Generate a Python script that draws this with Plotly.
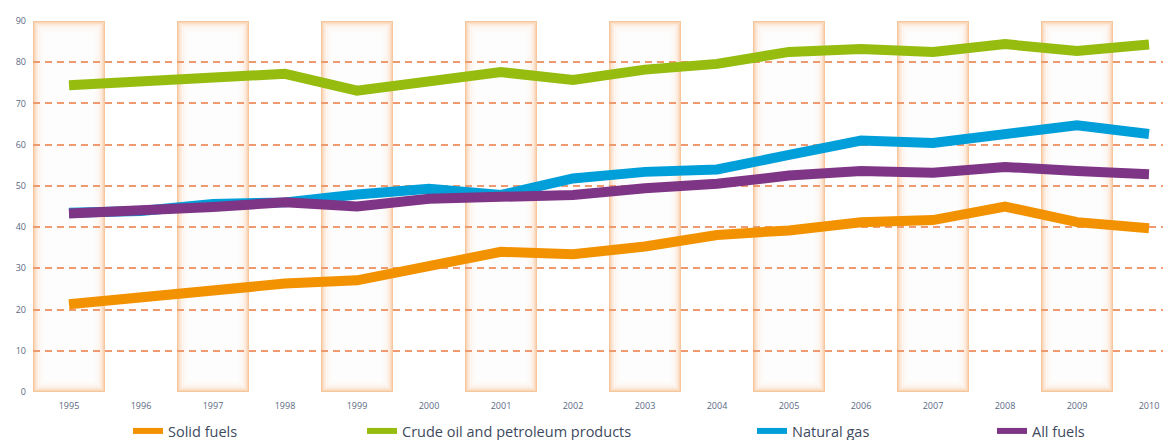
import plotly.graph_objects as go

# Years on the x axis
years = list(range(1995, 2011))

# Series values (index values per fuel type)
solid_fuels = [21.3, 22.9, 24.9, 26.3, 27.1, 30.7, 34.0, 33.4, 35.3, 38.1, 39.2, 41.2, 41.7, 45.0, 41.2, 39.7]
crude_oil = [74.4, 75.3, 75.7, 77.2, 73.1, 75.5, 77.6, 75.7, 78.2, 79.6, 82.5, 83.2, 82.5, 84.4, 82.7, 84.3]
natural_gas = [43.5, 43.9, 45.6, 46.0, 47.9, 49.3, 47.8, 51.8, 53.4, 54.0, 57.5, 61.0, 60.4, 62.4, 64.7, 62.6]
all_fuels = [43.3, 43.8, 44.9, 46.0, 45.0, 46.9, 47.4, 47.8, 49.4, 50.5, 52.5, 53.6, 53.2, 54.6, 53.6, 52.8]

series_names = ["Solid fuels", "Crude oil and petroleum products", "Natural gas", "All fuels"]
series_values = [solid_fuels, crude_oil, natural_gas, all_fuels]
series_colors = ["#F39200", "#95BC0E", "#009FDA", "#7E3586"]

# Alternate years that get a shaded column
band_years = [y for y in years if (y - years[0]) % 2 == 0 and y < years[-1]]

Y_MAX = 90
W, H = 1171, 440
plot_left, plot_right, plot_top, plot_bottom = 33, 1163, 21, 392
PX_X = 72.0                                   # pixels per year
PX_Y = (plot_bottom - plot_top) / Y_MAX       # pixels per unit
x_hi = 1994.5 + (plot_right - plot_left) / PX_X

fig = go.Figure()

legend_ids = ["legend", "legend2", "legend3", "legend4"]
for name, vals, col, lid in zip(series_names, series_values, series_colors, legend_ids):
    # data line
    fig.add_trace(go.Scatter(
        x=years, y=vals, name=name, mode="lines",
        line=dict(color=col, width=10),
        showlegend=False, hoverinfo="x+y+name",
    ))
    # slimmer legend swatch
    fig.add_trace(go.Scatter(
        x=[None], y=[None], name=name, mode="lines",
        line=dict(color=col, width=6), legend=lid, showlegend=True,
    ))

# Shaded columns with a soft inner glow: orange base, whitened toward the center
shapes = []
layers = 16
step = 1.1
for yr in band_years:
    x0, x1 = yr - 0.5, yr + 0.5
    shapes.append(dict(type="rect", xref="x", yref="y", x0=x0, x1=x1, y0=0, y1=Y_MAX,
                       fillcolor="#F6C69C", line=dict(width=0), layer="below"))
    for i in range(1, layers + 1):
        dx = i * step / PX_X
        dy = i * step / PX_Y
        shapes.append(dict(type="rect", xref="x", yref="y",
                           x0=x0 + dx, x1=x1 - dx, y0=dy, y1=Y_MAX - dy,
                           fillcolor="rgba(255,255,255,0.3)", line=dict(width=0),
                           layer="below"))

tick_font = dict(family="Open Sans, DejaVu Sans, sans-serif", size=9, color="#5B6A82")
legend_font = dict(family="Open Sans, DejaVu Sans, sans-serif", size=14.5, color="#3E4A5E")

legend_left_px = [128, 362, 752, 992]
legend_layout = {}
for lid, lx in zip(legend_ids, legend_left_px):
    legend_layout[lid] = dict(
        xref="container", yref="container",
        x=lx / W, xanchor="left", y=(H - 431) / H, yanchor="middle",
        orientation="h", font=legend_font, bgcolor="rgba(0,0,0,0)",
        itemwidth=30, tracegroupgap=0,
    )

fig.update_layout(
    width=W, height=H,
    margin=dict(l=plot_left, r=W - plot_right, t=plot_top, b=H - plot_bottom, autoexpand=False),
    paper_bgcolor="white", plot_bgcolor="white",
    shapes=shapes,
    showlegend=True,
    **legend_layout,
    xaxis=dict(
        range=[1994.5, x_hi], tickmode="array", tickvals=years,
        ticktext=[str(y) for y in years], showgrid=False, zeroline=False,
        showline=False, ticks="", tickfont=tick_font, ticklabelstandoff=7,
    ),
    yaxis=dict(
        range=[0, Y_MAX], tickmode="linear", tick0=0, dtick=10,
        showgrid=True, gridcolor="#EE9A6E", griddash="7px,5px", gridwidth=1.5,
        zeroline=False, showline=False, ticks="", tickfont=tick_font,
        ticklabelstandoff=6,
    ),
)

fig.write_html("out.html")
